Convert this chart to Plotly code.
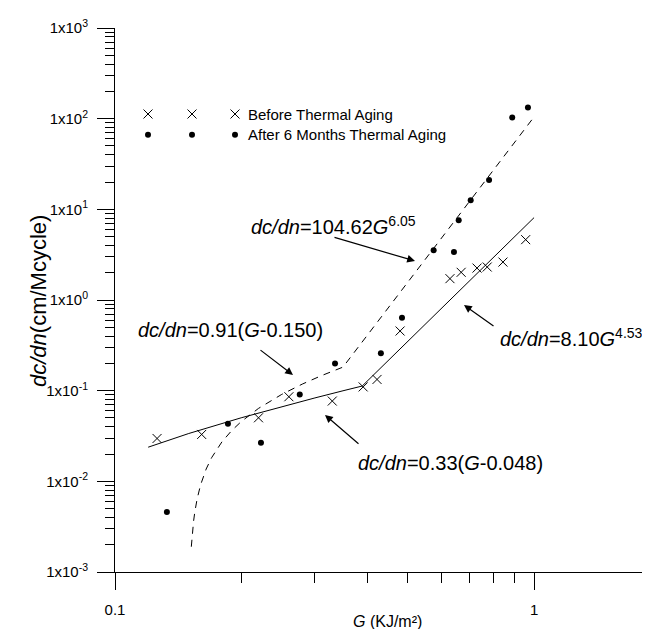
import plotly.graph_objects as go

# ---- data ----
G_before = [0.126, 0.161, 0.220, 0.260, 0.330, 0.391, 0.422, 0.479, 0.630, 0.670, 0.731, 0.773, 0.843, 0.955]
dcdn_before = [0.0297, 0.0329, 0.0502, 0.0857, 0.0768, 0.110, 0.133, 0.455, 1.72, 2.02, 2.25, 2.31, 2.62, 4.63]

G_after = [0.133, 0.186, 0.223, 0.276, 0.335, 0.431, 0.484, 0.576, 0.644, 0.661, 0.706, 0.781, 0.887, 0.967]
dcdn_after = [0.0046, 0.0431, 0.0266, 0.0908, 0.1995, 0.258, 0.638, 3.53, 3.39, 7.56, 12.6, 21.1, 103.0, 133.0]

# fitted curves (knots)
fit_before_G = [0.120, 0.15, 0.20, 0.25, 0.30, 0.35, 0.389, 1.0]
fit_before_v = [0.0238, 0.0337, 0.0502, 0.0667, 0.0832, 0.0997, 0.1125, 8.10]
fit_after_G = [0.1521, 0.1525, 0.153, 0.154, 0.155, 0.157, 0.16, 0.165, 0.17, 0.18, 0.19, 0.20,
               0.22, 0.25, 0.28, 0.31, 0.35, 1.0]
fit_after_v = [0.0019, 0.00228, 0.00273, 0.00364, 0.00455, 0.00637, 0.0091, 0.01365, 0.0182,
               0.0273, 0.0364, 0.0455, 0.0637, 0.091, 0.1183, 0.1456, 0.182, 104.62]

y_tickvals = [1e-3, 1e-2, 1e-1, 1e0, 1e1, 1e2, 1e3]
y_ticktext = ["1x10<sup>-3</sup>", "1x10<sup>-2</sup>", "1x10<sup>-1</sup>", "1x10<sup>0</sup>",
              "1x10<sup>1</sup>", "1x10<sup>2</sup>", "1x10<sup>3</sup>"]
x_tickvals = [0.1, 1]
x_ticktext = ["0.1", "1"]
legend_labels = ["Before Thermal Aging", "After 6 Months Thermal Aging"]

FONT = "Liberation Sans, Arial, sans-serif"
W, H = 650, 629
L, R, T, B = 107, 0, 20, 65
PW, PH = W - L - R, H - T - B

def px(x):
    return (x - L) / PW

def py(y):
    return (H - B - y) / PH

y_minor = [k * 10.0 ** e for e in range(-3, 3) for k in range(2, 10)]
x_minor = [k * 0.1 for k in range(2, 10)] + [2.0]

fig = go.Figure()

fig.add_trace(go.Scatter(x=fit_before_G, y=fit_before_v, mode="lines",
                         line=dict(color="black", width=1), hoverinfo="skip"))
fig.add_trace(go.Scatter(x=fit_after_G, y=fit_after_v, mode="lines",
                         line=dict(color="black", width=1, dash="7px,6px"), hoverinfo="skip"))
fig.add_trace(go.Scatter(x=G_before, y=dcdn_before, mode="markers",
                         marker=dict(symbol="x-thin-open", size=9, color="black",
                                     line=dict(color="black", width=1))))
fig.add_trace(go.Scatter(x=G_after, y=dcdn_after, mode="markers",
                         marker=dict(symbol="circle", size=6, color="black")))

# legend samples on a pixel overlay axis
leg_x = [140, 184, 227]
fig.add_trace(go.Scatter(x=leg_x, y=[106] * 3, xaxis="x2", yaxis="y2", mode="markers",
                         marker=dict(symbol="x-thin-open", size=9, color="black",
                                     line=dict(color="black", width=1)), hoverinfo="skip"))
fig.add_trace(go.Scatter(x=leg_x, y=[126.7] * 3, xaxis="x2", yaxis="y2", mode="markers",
                         marker=dict(symbol="circle", size=6, color="black"), hoverinfo="skip"))

axis_common = dict(showline=True, linecolor="black", linewidth=1, ticks="outside",
                   tickcolor="black", tickwidth=1, showgrid=False, zeroline=False,
                   tickfont=dict(family=FONT, size=15, color="black"))

fig.update_layout(
    width=W, height=H,
    margin=dict(l=L, r=R, t=T, b=B),
    plot_bgcolor="white", paper_bgcolor="white",
    showlegend=False,
    font=dict(family=FONT, color="black"),
    xaxis=dict(type="log", range=[-1, 0.2958], tickmode="array", tickvals=x_tickvals,
               ticktext=x_ticktext, ticklen=17, ticklabelstandoff=7,
               minor=dict(tickmode="array", tickvals=x_minor, ticks="outside", ticklen=10,
                          tickcolor="black", tickwidth=1, showgrid=False),
               **axis_common),
    yaxis=dict(type="log", range=[-3, 3], tickmode="array", tickvals=y_tickvals,
               ticktext=y_ticktext, ticklen=17, ticklabelstandoff=6,
               minor=dict(tickmode="array", tickvals=y_minor, ticks="outside", ticklen=9,
                          tickcolor="black", tickwidth=1, showgrid=False),
               **axis_common),
    xaxis2=dict(overlaying="x", anchor="y2", range=[L, W - R], visible=False),
    yaxis2=dict(overlaying="y", anchor="x2", range=[H - B, T], visible=False),
)

ann = []
# axis titles
ann.append(dict(text="<i>dc/dn</i>(cm/Mcycle)", xref="paper", yref="paper",
                x=px(30), y=py(293), textangle=-90, showarrow=False,
                xanchor="center", yanchor="middle",
                font=dict(family=FONT, size=22, color="black")))
ann.append(dict(text="<i>G</i> (KJ/m²)", xref="paper", yref="paper",
                x=px(379), y=py(613), showarrow=False,
                xanchor="center", yanchor="middle",
                font=dict(family=FONT, size=16, color="black")))
# legend labels
for lab, yy in zip(legend_labels, [106, 126.7]):
    ann.append(dict(text=lab, xref="paper", yref="paper", x=px(238), y=py(yy),
                    xanchor="left", yanchor="middle", showarrow=False,
                    font=dict(family=FONT, size=15, color="black")))
# equation labels
eqs = [
    ("<i>dc/dn</i>=104.62<i>G</i><sup>6.05</sup>", 241, 217),
    ("<i>dc/dn</i>=0.91(<i>G</i>-0.150)", 128, 322),
    ("<i>dc/dn</i>=8.10<i>G</i><sup>4.53</sup>", 490, 329),
    ("<i>dc/dn</i>=0.33(<i>G</i>-0.048)", 348, 455),
]
for t, xx, yy in eqs:
    ann.append(dict(text=t, xref="paper", yref="paper", x=px(xx), y=py(yy),
                    xanchor="left", yanchor="middle", showarrow=False,
                    font=dict(family=FONT, size=20, color="black")))
# arrows (head, tail) in pixels
arrows = [((407, 253), (325, 229)),
          ((285, 367), (251, 341)),
          ((456, 297), (487, 319)),
          ((317, 407), (352, 437))]
for (hx, hy), (tx, ty) in arrows:
    ann.append(dict(text="", x=hx, y=hy, xref="x2", yref="y2",
                    ax=tx, ay=ty, axref="x2", ayref="y2", showarrow=True,
                    arrowhead=2, arrowsize=1.3, arrowwidth=1.2, arrowcolor="black"))
fig.update_layout(annotations=ann)

fig.write_html("out.html")
